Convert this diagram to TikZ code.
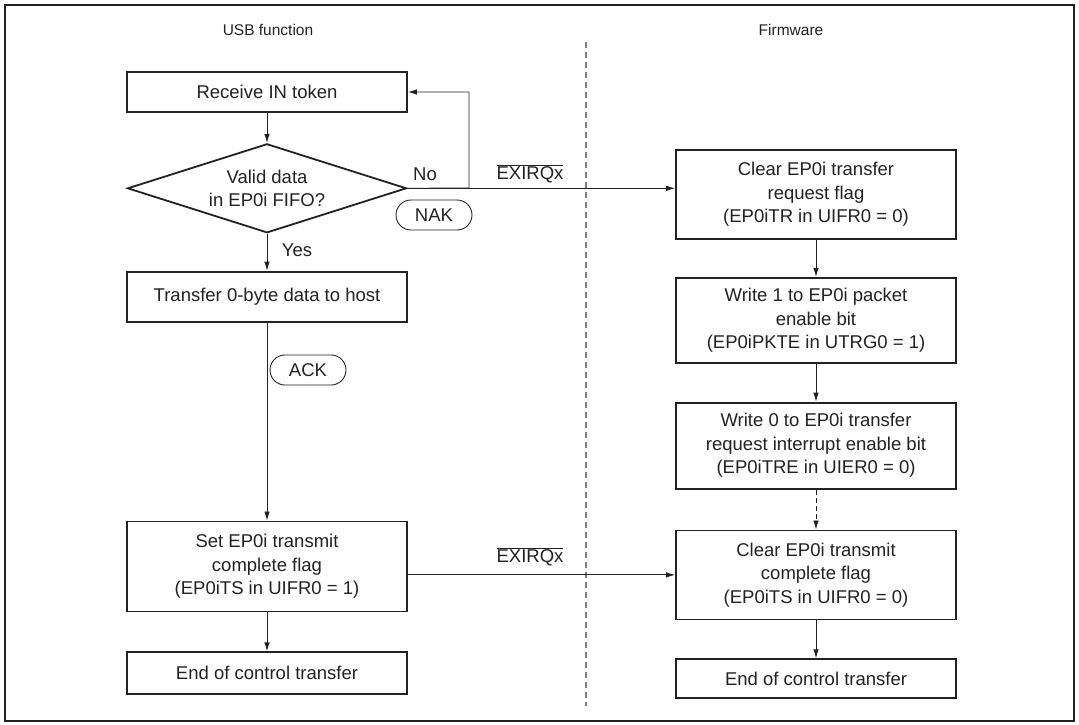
\documentclass[tikz,border=0pt]{standalone}
\usepackage{fontspec}
\setmainfont{Liberation Sans}
\usepackage{tikz}
\usetikzlibrary{arrows.meta,positioning,shapes,calc}
\definecolor{ink}{HTML}{222222}
\newcommand{\irq}{$\overline{\mbox{EXIRQx}}$}

\begin{document}
\begin{tikzpicture}[x=1pt,y=-1pt,->,>={Latex[length=9pt,width=5.5pt]},line width=0.9pt,draw=ink,text=ink,font=\fontsize{18.5}{23.5}\selectfont]
        \tikzstyle{proc} = [rectangle, draw, line width=1.8pt, minimum width=280pt, align=center, inner sep=0pt]
        \tikzstyle{decision} = [diamond, draw, line width=1.8pt, aspect=3.13, minimum width=279pt, minimum height=89pt, align=center, inner sep=0pt]
        \tikzstyle{pill} = [rectangle, draw, rounded corners=15pt, line width=0.9pt, minimum width=76pt, minimum height=30pt]
        \tikzstyle{heading} = [font=\fontsize{15.5}{18}\selectfont]

        \useasboundingbox (0,0) rectangle (1079,724);
        \draw[-, line width=2pt] (5,5) rectangle (1074,721);

        % Headings and divider
        \node[heading] (usbhd) at (268,30) {USB function};
        \node[heading] (fwhd) at (791,30) {Firmware};
        \coordinate (divtop) at (586,42);
        \coordinate (divbot) at (586,706);
        \draw[-, draw=gray, line width=1.4pt, dash pattern=on 6pt off 4pt] (divtop) -- (divbot);

        % Nodes (USB function)
        \node[proc, minimum height=40pt] (rin) at (267,92) {Receive IN token};
        \node[decision, below=30pt of rin] (valid) {Valid data\\in EP0i FIFO?};
        \node[proc, minimum height=50pt, below=37pt of valid] (xfer) {Transfer 0-byte data to host};
        \node[proc, minimum height=90pt, below=198pt of xfer] (setts) {Set EP0i transmit\\complete flag\\(EP0iTS in UIFR0 = 1)};
        \node[proc, minimum height=42pt, below=39pt of setts] (endl) {End of control transfer};
        \node[pill] (nak) at (434,215) {NAK};
        \node[pill] (ack) at (308,370) {ACK};

        % Nodes (Firmware)
        \node[proc, minimum height=89pt] (clrtr) at (816,194.5) {Clear EP0i transfer\\request flag\\(EP0iTR in UIFR0 = 0)};
        \node[proc, minimum height=85pt, below=37pt of clrtr] (wpk) {Write 1 to EP0i packet\\enable bit\\(EP0iPKTE in UTRG0 = 1)};
        \node[proc, minimum height=86pt, below=38pt of wpk] (wtre) {Write 0 to EP0i transfer\\request interrupt enable bit\\(EP0iTRE in UIER0 = 0)};
        \node[proc, minimum height=89pt, below=40pt of wtre] (clrts) {Clear EP0i transmit\\complete flag\\(EP0iTS in UIFR0 = 0)};
        \node[proc, minimum height=39pt, below=38pt of clrts] (endr) {End of control transfer};

        % Labels
        \node (no) at (425,174) {No};
        \node (yes) at (297,250) {Yes};
        \node (irqa) at (530,174) {\irq};
        \node (irqb) at (530,557) {\irq};

        % Edges
        \coordinate (back) at (469,188);
        \path (rin) edge (valid);
        \draw (valid.east) -- (back) |- (rin.east);
        \draw (valid.east) -- (clrtr.west |- valid.east);
        \path (valid) edge (xfer);
        \path (xfer) edge (setts);
        \path (setts) edge (endl);
        \draw (setts.east |- clrts.west) -- (clrts.west);
        \path (clrtr) edge (wpk);
        \path (wpk) edge (wtre);
        \path (wtre) edge[dashed, dash pattern=on 5pt off 3pt] (clrts);
        \path (clrts) edge (endr);
\end{tikzpicture}
\end{document}
